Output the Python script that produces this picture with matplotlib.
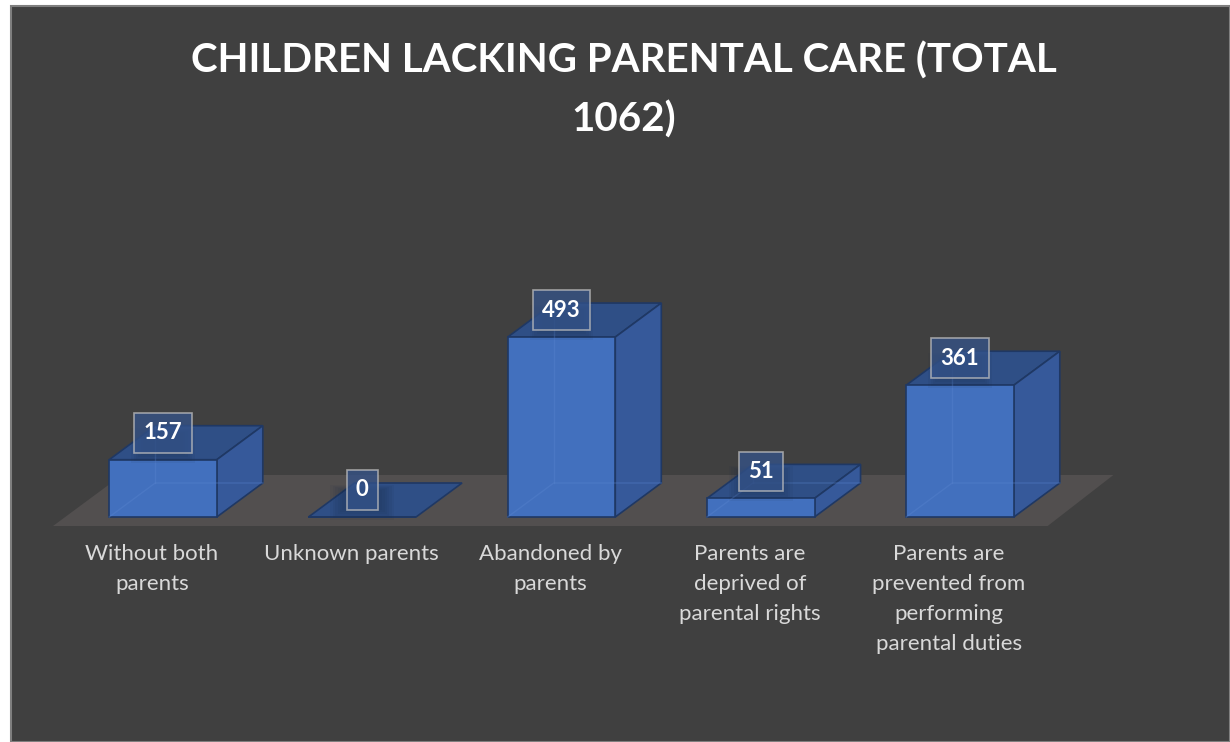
import numpy as np
import matplotlib.pyplot as plt
from matplotlib.patches import Polygon, Rectangle

categories = [
    "Without both\nparents",
    "Unknown parents",
    "Abandoned by\nparents",
    "Parents are\ndeprived of\nparental rights",
    "Parents are\nprevented from\nperforming\nparental duties",
]
counts = [157, 0, 493, 51, 361]
title = "CHILDREN LACKING PARENTAL CARE (TOTAL\n1062)"

W, H = 1230, 742
BG = "#404040"
FRONT = "#4270BE"
SIDE = "#36599A"
TOP = "#2F4F86"
EDGE = "#1F3864"
FLOOR = "#524F4F"

fig = plt.figure(figsize=(W / 100, H / 100), dpi=100, facecolor="white")

# dark chart area with a thin grey frame
fig.patches.append(Rectangle((11 / W, 0), 1 - 11 / W, 1 - 6 / H,
                             transform=fig.transFigure, facecolor=BG,
                             edgecolor="#7F7F7F", linewidth=1.5, zorder=-1))

ax = fig.add_axes([0, 0, 1, 1])
ax.set_facecolor("none")
ax.axis("off")

# pixel layout -> data scales: category step 199.25 px, 0.365 px per child
step, ppu, x0, y0 = 199.25, 0.365, 163, 517
ax.set_xlim(-x0 / step, (W - x0) / step)
ax.set_ylim(-(H - y0) / ppu, y0 / ppu)

width = 0.54
dx = 46 / step
dy = 34 / ppu
x = np.arange(len(counts))

# floor
fl_front = -9 / ppu
fl_back = 42 / ppu
floor = Polygon([(-0.552, fl_front), (4.44, fl_front),
                 (4.77, fl_back), (-0.206, fl_back)],
                closed=True, facecolor=FLOOR, edgecolor="none", zorder=1)
ax.add_patch(floor)

for xi, v in zip(x, counts):
    left, right = xi - width / 2, xi + width / 2
    top = Polygon([(left, v), (right, v), (right + dx, v + dy), (left + dx, v + dy)],
                  closed=True, facecolor=TOP, edgecolor=EDGE, linewidth=1.2, zorder=2)
    ax.add_patch(top)
    if v > 0:
        side = Polygon([(right, 0), (right + dx, dy), (right + dx, v + dy), (right, v)],
                       closed=True, facecolor=SIDE, edgecolor=EDGE, linewidth=1.2, zorder=2)
        ax.add_patch(side)

bars = ax.bar(x, counts, width=width, color=FRONT, edgecolor=EDGE,
              linewidth=1.2, zorder=3)

# faint hidden edges seen through the front face
for xi, v in zip(x, counts):
    if v <= 0:
        continue
    left, right = xi - width / 2, xi + width / 2
    ax.plot([left, left + dx, right + dx], [0, dy, dy], color="#5A86D0",
            alpha=0.35, linewidth=1, zorder=4)
    ax.plot([left + dx, left + dx], [dy, v + dy], color="#5A86D0",
            alpha=0.35, linewidth=1, zorder=4)

# soft shadow under each value label
for xi, v in zip(x, counts):
    cy = v + dy / 2 + 4 / ppu
    for k in range(6):
        ax.add_patch(Rectangle((xi - 0.10 - 0.012 * k, cy - (14 + 2 * k) / ppu),
                               0.20 + 0.024 * k, (20 + 3 * k) / ppu,
                               facecolor="#1A2A48", edgecolor="none",
                               alpha=0.07, zorder=5))

# value labels
for xi, v in zip(x, counts):
    ax.text(xi, v + dy / 2 + 10 / ppu, f"{v}", ha="center", va="center",
            fontsize=16, fontweight="bold", color="white", family="Lato",
            zorder=6,
            bbox=dict(boxstyle="square,pad=0.42", facecolor="#34538A",
                      alpha=0.75, edgecolor="#BFBFBF", linewidth=1.2))

# category labels
for xi, name in zip(x, categories):
    ax.text(xi - 0.055, -(544 - y0) / ppu, name, ha="center", va="top",
            fontsize=16, color="#D9D9D9", family="Lato", linespacing=1.62,
            zorder=5)

fig.text(624 / W, 1 - 90 / H, title, ha="center", va="center",
         fontsize=29, fontweight="bold", color="white", family="Lato",
         linespacing=1.68)

fig.savefig("out.png", dpi=100, facecolor="white")
